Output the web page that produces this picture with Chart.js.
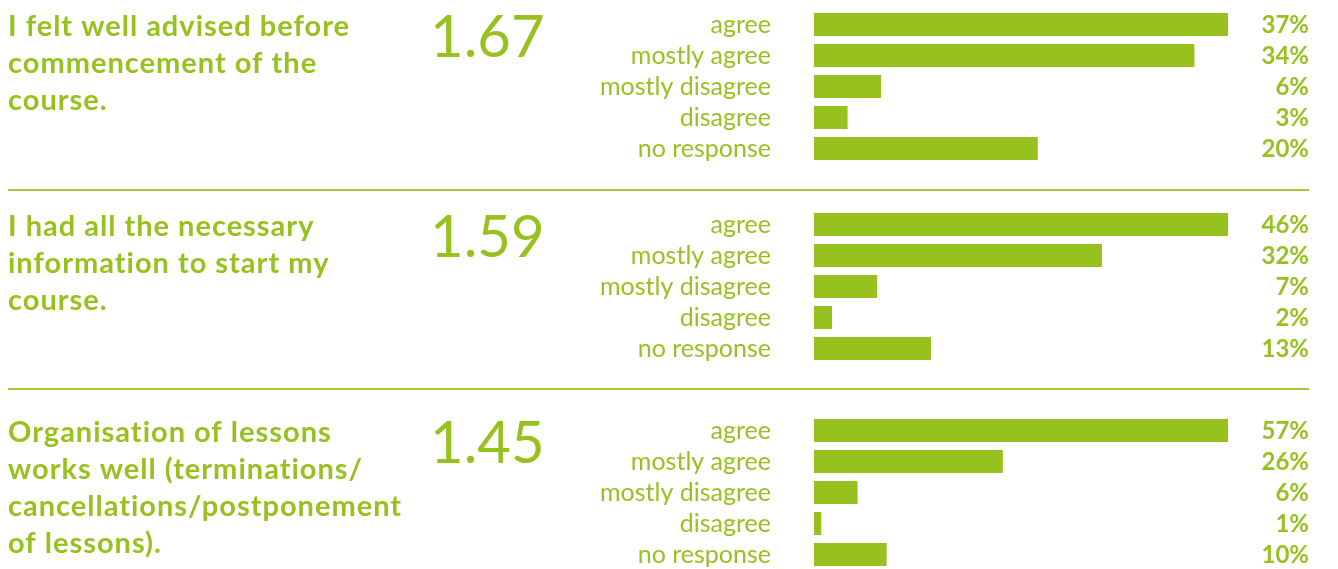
<!DOCTYPE html>
<html>
<head>
<meta charset="utf-8">
<script src="https://cdn.jsdelivr.net/npm/chart.js@4.4.1/dist/chart.umd.min.js"></script>
<style>
  html, body { margin: 0; padding: 0; background: #fff; width: 1338px; height: 569px; overflow: hidden; }
  .panel { position: absolute; left: 0; width: 1338px; }
  .rule { position: absolute; left: 8px; width: 1301px; height: 2px; background: #a3c93a; }
</style>
</head>
<body>
<div class="panel" style="top:0;height:190px"><canvas id="q1"></canvas></div>
<div class="rule" style="top:189px"></div>
<div class="panel" style="top:190px;height:199px"><canvas id="q2"></canvas></div>
<div class="rule" style="top:388px"></div>
<div class="panel" style="top:389px;height:188px"><canvas id="q3"></canvas></div>
<script>
var categories = ['agree', 'mostly agree', 'mostly disagree', 'disagree', 'no response'];

var titleQ1 = ['I felt well advised before', 'commencement of the', 'course.'];
var titleQ2 = ['I had all the necessary', 'information to start my', 'course.'];
var titleQ3 = ['Organisation of lessons', 'works well (terminations/', 'cancellations/postponement', 'of lessons).'];

var scoreQ1 = '1.67';
var scoreQ2 = '1.59';
var scoreQ3 = '1.45';

var valuesQ1 = [37, 34, 6, 3, 20];
var valuesQ2 = [46, 32, 7, 2, 13];
var valuesQ3 = [57, 26, 6, 1, 10];

var green = '#97c11f';
var fontName = 'Lato';

// title, big score and the % column
var panelText = {
    id: 'panelText',
    afterDraw: function (chart) {
        var o = chart.options.plugins.panelText;
        var ctx = chart.ctx;
        ctx.save();
        ctx.fillStyle = green;
        ctx.textAlign = 'left';
        ctx.textBaseline = 'alphabetic';
        ctx.font = 'bold 29px ' + fontName;
        ctx.letterSpacing = '1px';
        o.title.forEach(function (line, i) {
            ctx.fillText(line, 8, o.titleY + i * 37);
        });
        ctx.letterSpacing = '0px';
        ctx.font = '58px ' + fontName;
        ctx.fillText(o.score, 430, o.scoreY);

        ctx.font = 'bold 24px ' + fontName;
        ctx.textAlign = 'right';
        ctx.textBaseline = 'middle';
        var meta = chart.getDatasetMeta(0);
        meta.data.forEach(function (bar, i) {
            ctx.fillText(chart.data.datasets[0].data[i] + '%', 1309, bar.y + 1);
        });
        ctx.restore();
    }
};

function makeChart(id, values, title, score, pad, titleY, scoreY) {
    var ctx = document.getElementById(id).getContext('2d');
    return new Chart(ctx, {
        type: 'bar',
        data: {
            labels: categories,
            datasets: [{
                data: values,
                backgroundColor: green,
                borderWidth: 0,
                barPercentage: 23 / 31,
                categoryPercentage: 1
            }]
        },
        options: {
            indexAxis: 'y',
            responsive: true,
            maintainAspectRatio: false,
            animation: false,
            layout: {
                autoPadding: false,
                padding: { top: pad[0], right: 110, bottom: pad[1], left: 500 }
            },
            scales: {
                x: { display: false, min: 0, max: Math.max.apply(null, values) },
                y: {
                    afterFit: function (scale) { scale.width = 314; },
                    // invisible tick marks give the 43px gap without adding vertical padding
                    grid: { display: false, drawTicks: true, tickLength: 43 },
                    border: { display: false },
                    ticks: {
                        color: green,
                        padding: 0,
                        font: { family: fontName, size: 25, lineHeight: 0.5 }
                    }
                }
            },
            plugins: {
                legend: { display: false },
                tooltip: { enabled: false },
                panelText: { title: title, score: score, titleY: titleY, scoreY: scoreY }
            }
        },
        plugins: [panelText]
    });
}

makeChart('q1', valuesQ1, titleQ1, scoreQ1, [9, 26], 36, 57);
makeChart('q2', valuesQ2, titleQ2, scoreQ2, [19, 25], 46, 67);
makeChart('q3', valuesQ3, titleQ3, scoreQ3, [26, 7], 53, 74);
</script>
</body>
</html>
